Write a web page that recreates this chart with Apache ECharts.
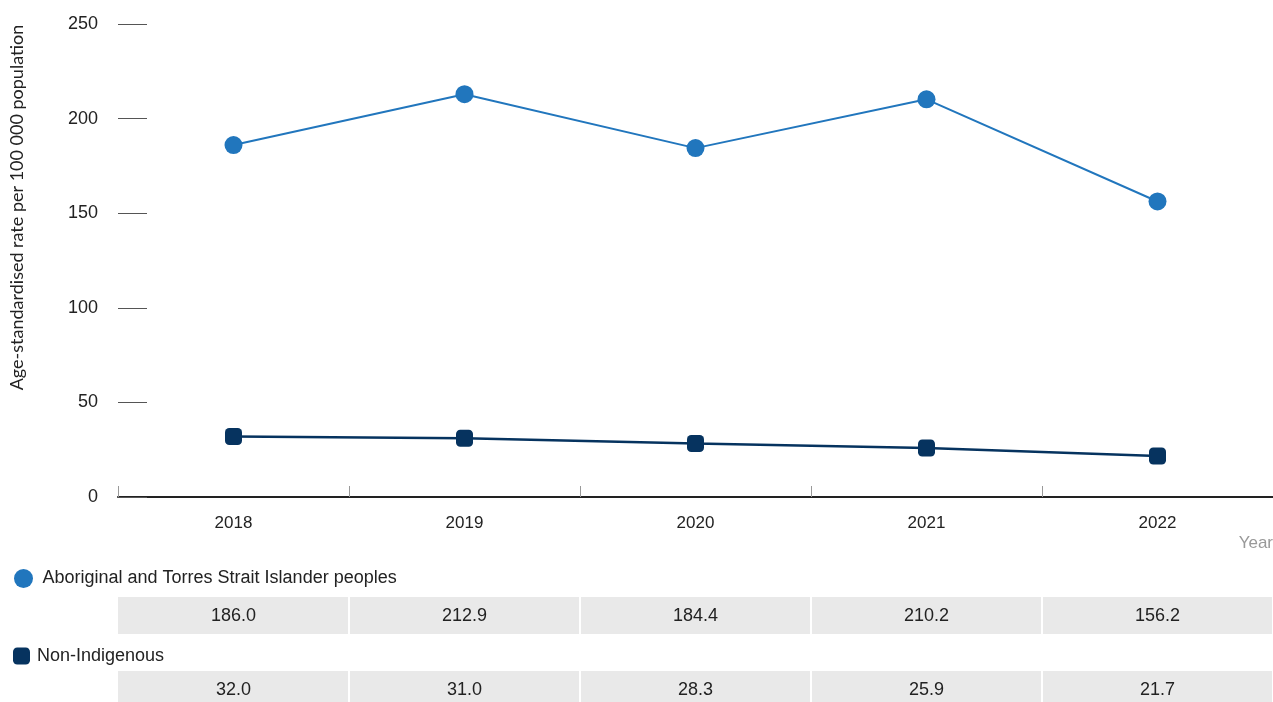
<!DOCTYPE html>
<html>
<head>
<meta charset="utf-8">
<script src="https://cdn.jsdelivr.net/npm/echarts@6/dist/echarts.min.js"></script>
<style>
html,body{margin:0;padding:0;background:#fff;}
#main{width:1273px;height:702px;}
</style>
</head>
<body>
<div id="main"></div>
<script>
const years = ['2018','2019','2020','2021','2022'];
const aboriginal = [186.0, 212.9, 184.4, 210.2, 156.2];
const nonIndigenous = [32.0, 31.0, 28.3, 25.9, 21.7];
const seriesNames = ['Aboriginal and Torres Strait Islander peoples', 'Non-Indigenous'];
const yTicks = [0, 50, 100, 150, 200, 250];

const C1 = '#2176bd';
const C2 = '#06335f';
const FONT = '"Liberation Sans", Arial, sans-serif';

const chart = echarts.init(document.getElementById('main'), null, {renderer:'canvas'});
const option = {
  animation: false,
  backgroundColor: '#fff',
  grid: { left: 118, right: 0, top: 24, bottom: 205, containLabel: false, outerBoundsMode: 'none' },
  legend: [
    { data: [{name: seriesNames[0], icon: 'circle'}], left: 9, top: 564, orient: 'horizontal',
      itemWidth: 26, itemHeight: 19, itemGap: 0,
      textStyle: { fontFamily: FONT, fontSize: 18, color: '#222', padding: [0,0,0,1] } },
    { data: [{name: seriesNames[1], icon: 'roundRect'}], left: 8, top: 642, orient: 'horizontal',
      itemWidth: 17, itemHeight: 17, itemGap: 0,
      textStyle: { fontFamily: FONT, fontSize: 18, color: '#222', padding: [0,0,0,2] } }
  ],
  xAxis: {
    type: 'category',
    data: years,
    boundaryGap: true,
    name: 'Year',
    nameLocation: 'end',
    nameGap: 0,
    nameTextStyle: { fontFamily: FONT, fontSize: 17, color: '#999', align: 'right', verticalAlign: 'top', padding: [38, 0, 0, 0] },
    axisLine: { show: true, lineStyle: { color: '#222', width: 2 } },
    axisTick: { show: true, inside: true, length: 11, lineStyle: { color: '#999', width: 1 } },
    axisLabel: { fontFamily: FONT, fontSize: 17, color: '#222', margin: 18 },
    splitLine: { show: false }
  },
  yAxis: {
    type: 'value',
    min: 0, max: 250, interval: 50,
    name: 'Age-standardised rate per 100 000 population',
    nameLocation: 'middle',
    nameGap: 92,
    nameRotate: 90,
    nameTextStyle: { fontFamily: '"Lato", "Open Sans", sans-serif', fontSize: 18, color: '#222', padding: [0, 0, 0, 106] },
    axisLine: { show: false },
    axisTick: { show: true, inside: true, length: 29, lineStyle: { color: '#555', width: 1 } },
    axisLabel: { fontFamily: FONT, fontSize: 18, color: '#222', margin: 20,
      formatter: v => yTicks.includes(v) ? String(v) : '' },
    splitLine: { show: false }
  },
  series: [
    { name: seriesNames[0], type: 'line', data: aboriginal, symbol: 'circle', symbolSize: 18,
      itemStyle: { color: C1 }, lineStyle: { color: C1, width: 2 }, z: 3 },
    { name: seriesNames[1], type: 'line', data: nonIndigenous, symbol: 'roundRect', symbolSize: 17,
      itemStyle: { color: C2 }, lineStyle: { color: C2, width: 2.5 }, z: 3 }
  ]
};
chart.setOption(option);

// Data table beneath the chart, aligned to category bands
const rows = [
  { values: aboriginal, top: 597, height: 37 },
  { values: nonIndigenous, top: 671, height: 37 }
];
const p0 = chart.convertToPixel({xAxisIndex: 0}, years[0]);
const p1 = chart.convertToPixel({xAxisIndex: 0}, years[1]);
const band = p1 - p0;
const elements = [];
rows.forEach(r => {
  years.forEach((y, i) => {
    const cx = chart.convertToPixel({xAxisIndex: 0}, y);
    const x0 = cx - band / 2;
    elements.push({
      type: 'rect', silent: true,
      shape: { x: x0 + (i === 0 ? 0 : 1), y: r.top, width: band - (i === 0 ? 1 : 2), height: r.height },
      style: { fill: '#e9e9e9' }
    });
    elements.push({
      type: 'text', silent: true,
      style: { text: r.values[i].toFixed(1), x: cx, y: r.top + 19, align: 'center', verticalAlign: 'middle',
        font: '18px ' + FONT, fill: '#222' }
    });
  });
});
chart.setOption({ graphic: { elements } });
</script>
</body>
</html>
